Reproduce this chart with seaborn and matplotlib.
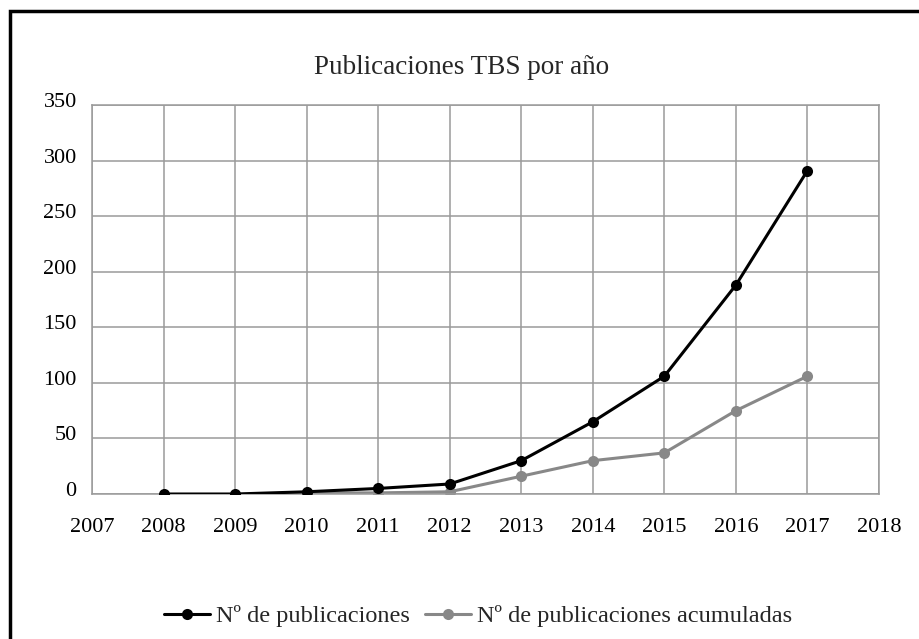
import numpy as np
import pandas as pd
import matplotlib
matplotlib.use("Agg")
import matplotlib.pyplot as plt
import matplotlib.transforms as mtrans
import seaborn as sns
from matplotlib.patches import Rectangle

# Datos
anios = [2008, 2009, 2010, 2011, 2012, 2013, 2014, 2015, 2016, 2017]
publicaciones = [0, 0, 2, 5, 9, 30, 65, 106, 188, 291]
anios_acum = [2010, 2011, 2012, 2013, 2014, 2015, 2016, 2017]
acumuladas = [1, 1, 2, 16, 30, 37, 75, 106]

titulo = "Publicaciones TBS por año"
etiqueta_1 = "Nº de publicaciones"
etiqueta_2 = "Nº de publicaciones acumuladas"

sns.set_style("white")
plt.rcParams['font.family'] = ['Liberation Serif', 'DejaVu Serif']

fig = plt.figure(figsize=(9.19, 6.39), dpi=100)
ax = fig.add_axes([92 / 919, 1 - 494 / 639, (879 - 92) / 919, (494 - 105) / 639])

sns.lineplot(x=anios, y=publicaciones, ax=ax, color="black", linewidth=2.2,
             marker="o", markersize=8, markeredgewidth=0, label=etiqueta_1, zorder=3)
sns.lineplot(x=anios_acum, y=acumuladas, ax=ax, color="#888888", linewidth=2.2,
             marker="o", markersize=8, markeredgewidth=0, label=etiqueta_2, zorder=2)

ax.set_xlim(2007, 2018)
ax.set_ylim(0, 350)
ax.set_xticks(range(2007, 2019))
ax.set_yticks(range(0, 351, 50))
ax.grid(True, color="#9a9a9a", linewidth=1.1)
for s in ax.spines.values():
    s.set_color("#9a9a9a")
    s.set_linewidth(1.1)
ax.tick_params(axis="both", length=0, labelsize=16, colors="black")
ax.tick_params(axis="x", pad=17)
ax.tick_params(axis="y", pad=11)
# etiquetas del eje y un poco por encima de la línea
desplaza = mtrans.ScaledTranslation(0, 5 / 100, fig.dpi_scale_trans)
for lab in ax.get_yticklabels():
    lab.set_transform(lab.get_transform() + desplaza)
ax.set_xlabel("")
ax.set_ylabel("")

ax.legend_.remove()
h, l = ax.get_legend_handles_labels()
fig.legend(h, l, loc="center", bbox_to_anchor=(478 / 919, 1 - 616 / 639), ncol=2,
           frameon=False, fontsize=17.5, handlelength=1.9, columnspacing=0.6,
           handletextpad=0.25)

fig.text(462 / 919, 1 - 68 / 639, titulo, ha="center", va="center", fontsize=19.5)

# marco exterior
fig.patches.append(Rectangle((10 / 919, -0.1), 1.2, 1 - 11 / 639 + 0.1,
                             transform=fig.transFigure, fill=False,
                             edgecolor="black", linewidth=2.5))

plt.savefig("out.png", dpi=100)
